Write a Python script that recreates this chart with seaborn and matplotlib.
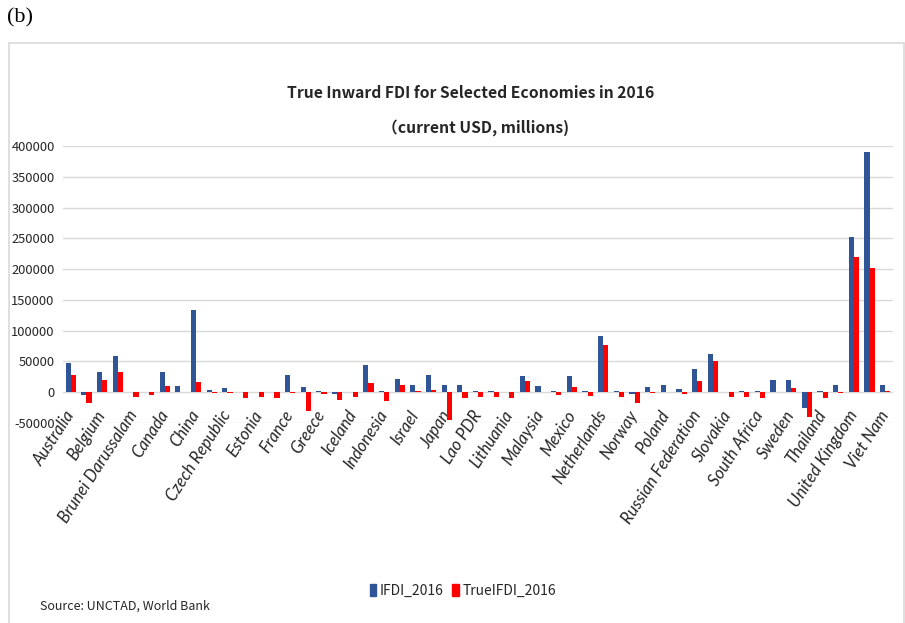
import pandas as pd
import matplotlib.pyplot as plt
import matplotlib.patches as mpatches
import seaborn as sns

# values (USD millions)
countries = ['Australia', 'Austria', 'Belgium', 'Brazil', 'Brunei Darussalam', 'Bulgaria',
             'Canada', 'Chile', 'China', 'Colombia', 'Czech Republic', 'Denmark', 'Estonia',
             'Finland', 'France', 'Germany', 'Greece', 'Hungary', 'Iceland', 'India',
             'Indonesia', 'Ireland', 'Israel', 'Italy', 'Japan', 'Korea', 'Lao PDR', 'Latvia',
             'Lithuania', 'Luxembourg', 'Malaysia', 'Malta', 'Mexico', 'Morocco', 'Netherlands',
             'New Zealand', 'Norway', 'Peru', 'Poland', 'Portugal', 'Russian Federation',
             'Singapore', 'Slovakia', 'Slovenia', 'South Africa', 'Spain', 'Sweden',
             'Switzerland', 'Thailand', 'Turkey', 'United Kingdom', 'United States', 'Viet Nam']

ifdi_2016 = [48000, -5000, 33000, 59000, 0, 1000, 33000, 10000, 133000, 4000, 7000, 1000, 1000,
             1000, 28000, 9000, 1500, -3000, 0, 44000, 2500, 22000, 12000, 28000, 11000, 11000,
             1500, 1500, 0, 27000, 10000, 2000, 27000, 2000, 92000, 1500, -3000, 8700, 11000,
             6000, 38000, 61500, 0, 1500, 1500, 19500, 19500, -26000, 1500, 12000, 252000,
             390000, 12000]

true_ifdi_2016 = [28000, -18000, 20000, 33000, -7000, -5000, 10000, 1000, 17000, -2000, -1000,
                  -9000, -7000, -9000, -2000, -30000, -3000, -13000, -7000, 14500, -14000, 11000,
                  2000, 3000, -45000, -10000, -7500, -7500, -9000, 19000, 0, -4000, 8500, -6000,
                  76700, -7000, -17000, -1500, 0, -3000, 18000, 50000, -8500, -7000, -9000, 0,
                  7000, -40500, -10000, -2000, 219000, 202000, 2500]

series_names = ['IFDI_2016', 'TrueIFDI_2016']
yticks = [-50000, 0, 50000, 100000, 150000, 200000, 250000, 300000, 350000, 400000]

df = pd.DataFrame({'country': countries * 2,
                   'value': ifdi_2016 + true_ifdi_2016,
                   'series': [series_names[0]] * len(countries) + [series_names[1]] * len(countries)})

sns.set_style('white')
plt.rcParams['font.family'] = ['Noto Sans CJK SC', 'DejaVu Sans']
text_color = '#262626'

fig = plt.figure(figsize=(9.05, 6.23), dpi=100)
ax = fig.add_axes([63 / 905, 200 / 623, 830 / 905, 277 / 623])

sns.barplot(data=df, x='country', y='value', hue='series', order=countries,
            hue_order=series_names, palette=['#2F5597', '#FF0000'], width=0.66,
            gap=0, saturation=1, errorbar=None, legend=False, ax=ax, zorder=3,
            linewidth=0)

ax.set_ylim(-50000, 400000)
ax.set_yticks(yticks)
ax.set_yticklabels([str(v) for v in yticks], fontsize=9.3, color=text_color)
ax.grid(axis='y', color='#D9D9D9', linewidth=1, zorder=0)
ax.set_xlim(-0.5, len(countries) - 0.5)
ax.set_xlabel('')
ax.set_ylabel('')
for s in ax.spines.values():
    s.set_visible(False)
ax.tick_params(axis='y', length=0, pad=6)
ax.tick_params(axis='x', length=0, pad=-8)

# only every other category is labelled
xlabels = [c if i % 2 == 0 else '' for i, c in enumerate(countries)]
ax.set_xticks(range(len(countries)))
ax.set_xticklabels(xlabels, rotation=57, ha='right', va='center', rotation_mode='anchor',
                   fontsize=12, style='italic', color=text_color, family='Lato')

fig.text(471 / 905, 1 - 93 / 623, 'True Inward FDI for Selected Economies in 2016',
         ha='center', va='center', fontsize=11.3, fontweight='bold', color=text_color)
fig.text(476 / 905, 1 - 128 / 623, '（current USD, millions)',
         ha='center', va='center', fontsize=11.3, fontweight='bold', color=text_color)

handles = [mpatches.Patch(color='#2F5597', label=series_names[0]),
           mpatches.Patch(color='#FF0000', label=series_names[1])]
fig.legend(handles=handles, loc='center', bbox_to_anchor=(463 / 905, 1 - 591 / 623),
           ncol=2, frameon=False, fontsize=10, handlelength=0.45, handleheight=0.9,
           handletextpad=0.3, columnspacing=0.6, labelcolor=text_color)

fig.text(40 / 905, 1 - 606 / 623, 'Source: UNCTAD, World Bank', ha='left', va='center',
         fontsize=9, color=text_color)

fig.text(7 / 905, 1 - 18 / 623, '(b)', ha='left', va='center', fontsize=16,
         family='Liberation Serif', color='black')

# light frame around the chart area
fig.add_artist(mpatches.Rectangle((9 / 905, -0.05), 895 / 905, (623 - 43) / 623 + 0.05,
                                  transform=fig.transFigure, fill=False,
                                  edgecolor='#D9D9D9', linewidth=1.2))

plt.savefig('out.png', dpi=100)
